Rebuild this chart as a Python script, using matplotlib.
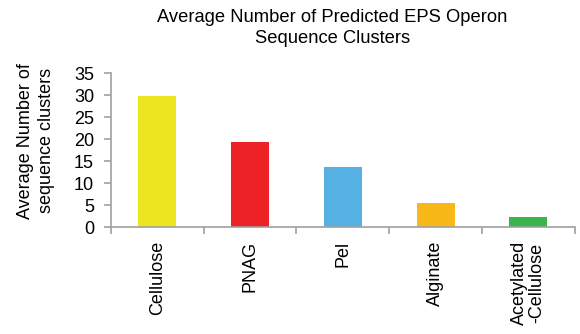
import matplotlib.pyplot as plt
import numpy as np

plt.rcParams['font.family'] = ['Liberation Sans', 'DejaVu Sans']

operons = ["Cellulose", "PNAG", "Pel", "Alginate", "Acetylated\n-Cellulose"]
avg_clusters = [29.7, 19.3, 13.6, 5.4, 2.2]
bar_colors = ["#ebe61e", "#ec2227", "#55b1e3", "#f8b918", "#39b54a"]

fig = plt.figure(figsize=(5.8, 3.34), dpi=100)
ax = fig.add_axes([0.191, 0.320, 0.800, 0.461])

x = np.arange(len(operons))
ax.bar(x, avg_clusters, width=0.41, color=bar_colors)

ax.set_xlim(-0.5, len(operons) - 0.5)
ax.set_ylim(0, 35)
ax.set_yticks(range(0, 36, 5))
ax.tick_params(axis="y", labelsize=13, color="#a0a0a0", length=5, width=1.2, pad=7)

# category labels sit between the boundary ticks
ax.set_xticks(x)
ax.set_xticklabels(operons, rotation=90, fontsize=13, va="top", ha="center",
                   linespacing=1.05)
ax.tick_params(axis="x", which="major", length=0, pad=10)
ax.set_xticks(np.arange(-0.5, len(operons)), minor=True)
ax.tick_params(axis="x", which="minor", length=5, color="#a0a0a0", width=1.2)

for side in ["top", "right"]:
    ax.spines[side].set_visible(False)
for side in ["left", "bottom"]:
    ax.spines[side].set_color("#a0a0a0")
    ax.spines[side].set_linewidth(1.2)

ax.set_ylabel("Average Number of\nsequence clusters", fontsize=13,
              linespacing=1.35)
ax.yaxis.set_label_coords(-0.12, 0.56)
ax.set_title("Average Number of Predicted EPS Operon\nSequence Clusters",
             fontsize=13.2, pad=22, x=0.478, linespacing=1.3)

fig.savefig("out.png", dpi=100)
